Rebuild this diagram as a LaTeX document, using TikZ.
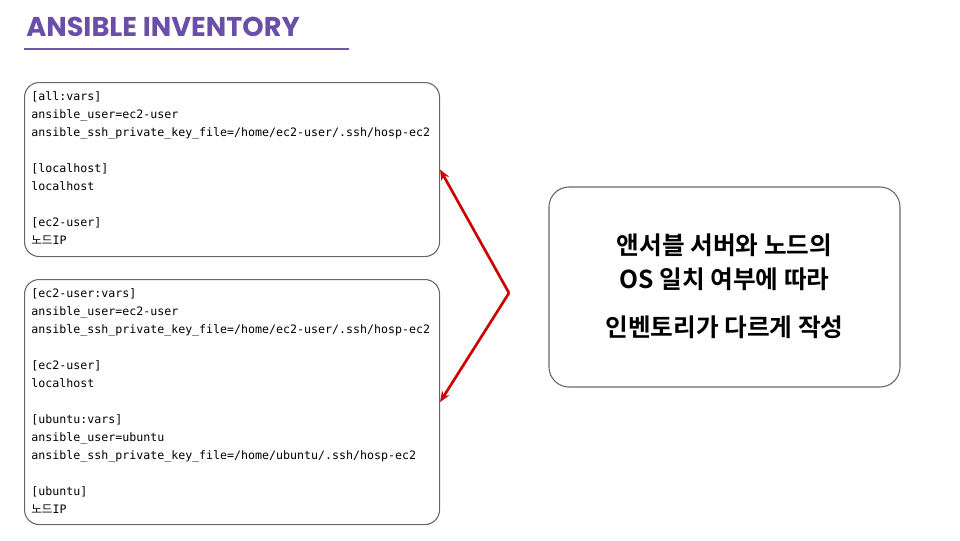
\documentclass[tikz,border=0pt]{standalone}
\usepackage{fontspec}
\usetikzlibrary{arrows.meta}
\newfontfamily\titlefont{Poppins}
\newfontfamily\codefont{DejaVu Sans Mono}
\newfontfamily\krfont{Noto Sans CJK KR}
\newfontfamily\krbold{Noto Sans CJK KR}[BoldFont={Noto Sans CJK KR Bold}]
\definecolor{titlepurple}{HTML}{6A4FA8}
\definecolor{linepurple}{HTML}{7055B3}
\definecolor{boxgray}{HTML}{666666}
\definecolor{arrowred}{HTML}{CC0000}
\tikzset{
  codebox/.style={draw=boxgray, line width=0.8pt, rounded corners=11pt, anchor=north west, inner sep=0pt},
  codetext/.style={anchor=north west, inner sep=0pt, align=left,
     font=\codefont\fontsize{8.72pt}{13.5pt}\selectfont},
  notebox/.style={draw=boxgray, line width=0.8pt, rounded corners=15pt, inner sep=0pt},
  redarrow/.style={draw=arrowred, line width=2pt, -{Stealth[length=8pt,width=6.5pt]}}
}
\newcommand{\kr}[1]{{\krfont #1}}
\begin{document}
\begin{tikzpicture}[x=0.75pt,y=-0.75pt]
\useasboundingbox (0,0) rectangle (960,540);
% title
\node[anchor=base west, inner sep=0pt, text=titlepurple,
      font=\titlefont\bfseries\fontsize{20.4pt}{20.4pt}\selectfont] (title) at (26,36) {ANSIBLE INVENTORY};
\coordinate (ulA) at (24,49);
\coordinate (ulB) at (349,49);
\draw[linepurple, line width=2.2pt] (ulA) -- (ulB);
% box 1
\node[codebox, minimum width=311.25pt, minimum height=130.5pt] (box1) at (24,82) {};
\node[codetext] (code1) at (31,91) {{[}all:vars]\\
ansible\_user=ec2-user\\
ansible\_ssh\_private\_key\_file=/home/ec2-user/.ssh/hosp-ec2\\
\mbox{}\\
{[}localhost]\\
localhost\\
\mbox{}\\
{[}ec2-user]\\
\kr{노드}IP};
% box 2
\node[codebox, minimum width=311.25pt, minimum height=183.75pt] (box2) at (24,279) {};
\node[codetext] (code2) at (31,288) {{[}ec2-user:vars]\\
ansible\_user=ec2-user\\
ansible\_ssh\_private\_key\_file=/home/ec2-user/.ssh/hosp-ec2\\
\mbox{}\\
{[}ec2-user]\\
localhost\\
\mbox{}\\
{[}ubuntu:vars]\\
ansible\_user=ubuntu\\
ansible\_ssh\_private\_key\_file=/home/ubuntu/.ssh/hosp-ec2\\
\mbox{}\\
{[}ubuntu]\\
\kr{노드}IP};
% note box
\node[notebox, minimum width=263.25pt, minimum height=150pt] (note) at (724.5,287) {};
\node[align=center, inner sep=0pt, font=\krbold\bfseries\fontsize{18.5pt}{25.5pt}\selectfont] (notetext) at (724.5,286)
  {앤서블 서버와 노드의\\OS 일치 여부에 따라\\[10.5pt]인벤토리가 다르게 작성};
% arrows
\coordinate (apex) at (509,293);
\draw[redarrow] (apex) -- (box1.east);
\draw[redarrow] (apex) -- (box2.east);
\end{tikzpicture}
\end{document}
